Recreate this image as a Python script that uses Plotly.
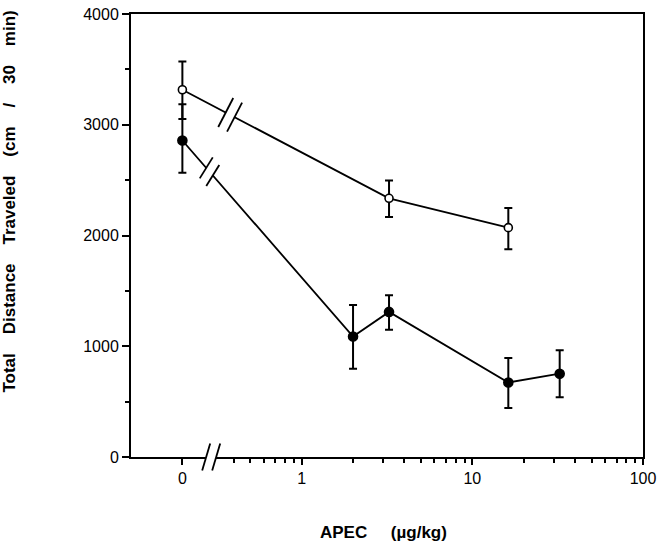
import math
import plotly.graph_objects as go

# dose of APEC (ug/kg), 0 = vehicle
open_dose = [0, 3.25, 16.25]
open_mean = [3316, 2336, 2071]
open_err_up = [256, 160, 177]
open_err_dn = [263, 168, 195]

filled_dose = [0, 2, 3.25, 16.25, 32.5]
filled_mean = [2858, 1088, 1310, 673, 752]
filled_err_up = [328, 284, 150, 221, 213]
filled_err_dn = [292, 292, 160, 231, 212]

x_tickvals = [0.2, 1, 10, 100]
x_ticktext = ["0", "1", "10", "100"]
x_minor = [0.4, 0.5, 0.6, 0.7, 0.8, 0.9] + list(range(2, 10)) + list(range(20, 100, 10))

W, H = 662, 544
M = dict(l=131, r=15, t=6, b=87)
PLOT_W = W - M["l"] - M["r"]
PLOT_H = H - M["t"] - M["b"]
X_RANGE = [-1, 2]
Y_RANGE = [0, 4000]
ZERO_POS = 0.2  # where dose 0 sits on the log axis
AXIS_BREAK = 0.295

FONT = "Liberation Sans, Arial, Helvetica, sans-serif"


def pos(d):
    return [ZERO_POS if v == 0 else v for v in d]


fig = go.Figure()

for dose, mean, up, dn, fill in [
    (open_dose, open_mean, open_err_up, open_err_dn, "white"),
    (filled_dose, filled_mean, filled_err_up, filled_err_dn, "black"),
]:
    fig.add_trace(go.Scatter(
        x=pos(dose), y=mean, mode="lines+markers",
        line=dict(color="black", width=1.8),
        marker=dict(size=9 if fill == "black" else 8, color=fill,
                    line=dict(color="black", width=1.6)),
        error_y=dict(type="data", symmetric=False, array=up, arrayminus=dn,
                     color="black", thickness=2, width=4),
        showlegend=False,
    ))


def add_break(xlog, y, half, sep):
    # drawn in paper coords so the mark is not clipped at the axis
    hx, hy = half
    dx, dy = sep
    xp = (xlog - X_RANGE[0]) / (X_RANGE[1] - X_RANGE[0])
    yp = (y - Y_RANGE[0]) / (Y_RANGE[1] - Y_RANGE[0])
    path = (f"M{-dx-hx},{-dy-hy} L{-dx+hx},{-dy+hy} "
            f"L{dx+hx},{dy+hy} L{dx-hx},{dy-hy} Z")
    common = dict(xref="paper", yref="paper", xsizemode="pixel",
                  ysizemode="pixel", xanchor=xp, yanchor=yp, layer="above")
    fig.add_shape(type="path", path=path, fillcolor="white",
                  line=dict(width=0), **common)
    for s in (-1, 1):
        fig.add_shape(type="line", x0=s*dx - hx, y0=s*dy - hy,
                      x1=s*dx + hx, y1=s*dy + hy,
                      line=dict(color="black", width=1.8), **common)


def line_break(dose, mean, xlog, half, gap=5):
    # break mark on the segment between dose 0 and the first dose
    x0, x1 = math.log10(ZERO_POS), math.log10(dose[1])
    t = (xlog - x0) / (x1 - x0)
    y = mean[0] + t * (mean[1] - mean[0])
    px = (x1 - x0) * PLOT_W / (X_RANGE[1] - X_RANGE[0])
    py = (mean[1] - mean[0]) * PLOT_H / (Y_RANGE[1] - Y_RANGE[0])
    n = math.hypot(px, py)
    add_break(xlog, y, half, (gap * px / n, gap * py / n))


line_break(open_dose, open_mean, -0.419, (7.5, 14.5))
line_break(filled_dose, filled_mean, -0.54, (6.5, 10.5))
add_break(math.log10(AXIS_BREAK), 0, (4, 13.5), (5, 0))

fig.update_xaxes(
    type="log", range=X_RANGE,
    showline=True, linecolor="black", linewidth=2, mirror=True,
    showgrid=False, zeroline=False,
    ticks="outside", ticklen=6, tickwidth=2, tickcolor="black",
    tickvals=x_tickvals, ticktext=x_ticktext, ticklabeloverflow="allow",
    minor=dict(tickmode="array", tickvals=x_minor, ticks="outside",
               ticklen=4, tickwidth=2, tickcolor="black", showgrid=False),
    tickfont=dict(family=FONT, size=16, color="black"),
)
fig.update_yaxes(
    range=Y_RANGE,
    showline=True, linecolor="black", linewidth=2, mirror=True,
    showgrid=False, zeroline=False,
    ticks="outside", ticklen=7, tickwidth=2, tickcolor="black",
    tickvals=[0, 1000, 2000, 3000, 4000], ticklabeloverflow="allow",
    minor=dict(tickmode="array", tickvals=[500, 1500, 2500, 3500],
               ticks="outside", ticklen=4, tickwidth=2, tickcolor="black",
               showgrid=False),
    tickfont=dict(family=FONT, size=16, color="black"),
)

sp = "\u00a0" * 4
fig.add_annotation(
    text="<b>APEC" + "\u00a0" * 5 + "(µg/kg)</b>",
    xref="paper", yref="paper", x=(385 - M["l"]) / PLOT_W,
    y=(PLOT_H + M["t"] - 534) / PLOT_H,
    xanchor="center", yanchor="middle", showarrow=False,
    font=dict(family=FONT, size=17, color="black"),
)
fig.add_annotation(
    text="<b>" + sp.join(["Total", "Distance", "Traveled", "(cm", "/", "30", "min)"]) + "</b>",
    xref="paper", yref="paper", x=(9 - M["l"]) / PLOT_W,
    y=(PLOT_H + M["t"] - 197) / PLOT_H,
    xanchor="center", yanchor="middle", textangle=-90, showarrow=False,
    font=dict(family=FONT, size=17, color="black"),
)

fig.update_layout(
    width=W, height=H, margin=M,
    paper_bgcolor="white", plot_bgcolor="white",
)

fig.write_html("out.html", config={"displayModeBar": False},
               post_script="document.body.style.margin='0';")
